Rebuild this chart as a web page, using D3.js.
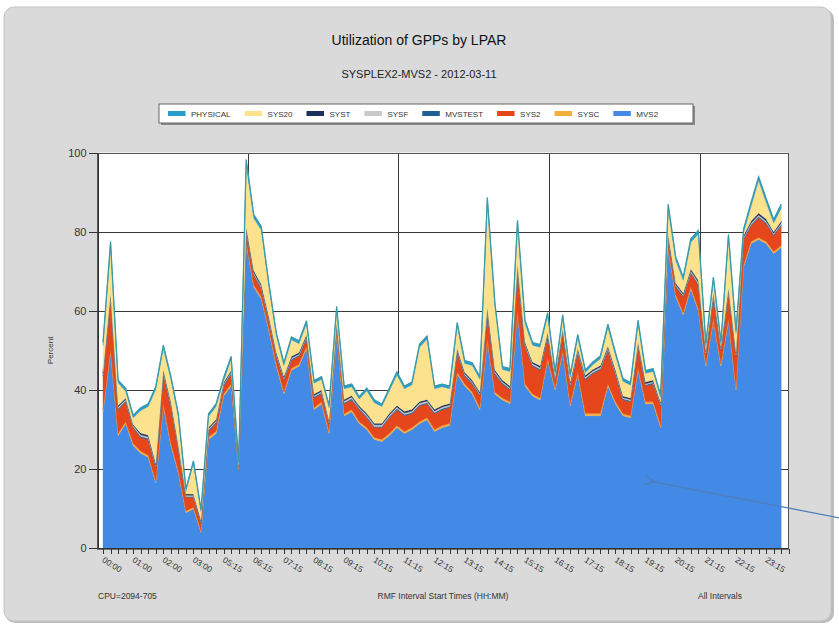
<!DOCTYPE html>
<html lang="en">
<head>
<meta charset="utf-8">
<title>Utilization of GPPs by LPAR</title>
<script src="https://cdn.jsdelivr.net/npm/d3@7"></script>
<style>
  body { margin: 0; background: #fff; }
  svg { display: block; font-family: "Liberation Sans", Arial, sans-serif; }
  .axis path, .axis line { stroke: #333; shape-rendering: crispEdges; }
  .axis text { fill: #333; }
  .grid line { stroke: #3a3a3a; stroke-width: 1; shape-rendering: crispEdges; }
</style>
</head>
<body>
<div id="chart"></div>
<script>
// interval start times (x categories)
var categories = [
  "00:00","00:15","00:30","00:45","01:00","01:15","01:30","01:45","02:00","02:15",
  "02:30","02:45","03:00","04:30","04:45","05:00","05:15","05:30","05:45","06:00",
  "06:15","06:30","06:45","07:00","07:15","07:30","07:45","08:00","08:15","08:30",
  "08:45","09:00","09:15","09:30","09:45","10:00","10:15","10:30","10:45","11:00",
  "11:15","11:30","11:45","12:00","12:15","12:30","12:45","13:00","13:15","13:30",
  "13:45","14:00","14:15","14:30","14:45","15:00","15:15","15:30","15:45","16:00",
  "16:15","16:30","16:45","17:00","17:15","17:30","17:45","18:00","18:15","18:30",
  "18:45","19:00","19:15","19:30","19:45","20:00","20:15","20:30","20:45","21:00",
  "21:15","21:30","21:45","22:00","22:15","22:30","22:45","23:00","23:15","23:30",
  "23:45"
];

// only every 4th interval gets a label
var tickLabels = ["00:00","01:00","02:00","03:00","05:15","06:15","07:15","08:15","09:15","10:15",
  "11:15","12:15","13:15","14:15","15:15","16:15","17:15","18:15","19:15","20:15",
  "21:15","22:15","23:15"];

var yTicks = [0, 20, 40, 60, 80, 100];

// percent of GPP capacity per LPAR
var MVS2 = [
  34.5,49.5,28.5,31.5,26,24,23,16.5,36,26,
  19,9,10,4,27.5,29,38.5,41,20,77,
  66,63,55,46,39,45,46,50.5,35,36.5,
  29,54,33.5,34.5,31.5,30,27.5,27,28.5,30.5,
  29,30,31.5,32.5,29.5,30.5,31,44,41,39,
  35,52.5,39,37.5,36.5,59.5,41,38.5,37.5,47.5,
  40,49.5,36,44,33.5,33.5,33.5,41,36.5,33.5,
  33,45,36.5,36.5,30.5,75.5,63.5,59,65.5,60,
  46,57.5,46,57.5,40,71,77,78,77,74.5,
  76];
var SYSC = [
  0.5,0.6,0.5,0.5,0.5,0.5,0.5,0.4,0.5,0.5,
  0.5,0.4,0.4,0.4,0.6,0.6,0.5,0.5,0.3,0.5,
  0.5,0.5,0.5,0.5,0.5,0.5,0.5,0.5,0.5,0.5,
  0.5,0.5,0.5,0.5,0.5,0.5,0.5,0.5,0.5,0.5,
  0.5,0.5,0.5,0.5,0.5,0.5,0.5,0.5,0.5,0.5,
  0.5,0.5,0.5,0.5,0.5,0.5,0.5,0.5,0.5,0.5,
  0.5,0.5,0.5,0.5,0.6,0.6,0.6,0.5,0.5,0.5,
  0.5,0.5,0.5,0.5,0.5,0.5,0.5,0.5,0.5,0.5,
  0.5,0.5,0.5,0.5,0.5,0.5,0.5,0.5,0.5,0.5,
  0.5];
var SYS2 = [
  8.5,13,6,5,4,3.5,4,3.5,7.5,9.5,
  5.5,3.5,2.5,2,1.5,2,2,2.5,0.2,2.5,
  2.5,2,2,2,3,2,2,2,2.5,2,
  2,1.5,2.5,2.5,3,2.5,2.5,3,4,4,
  4,3.5,4,3.5,4,4,4,5,2,2,
  3,6.5,4.5,3.5,3,10.5,9.5,7,7,5.5,
  2,4.5,4.5,5,8.5,10,11,8.5,7,3.5,
  3.5,5.5,4,4.5,5,2,2,4,3.5,6,
  2.5,5.5,3.5,6.5,8,6.5,4,5,4.5,4,
  5];
var MVSTEST = [
  0.3,0.3,0.3,0.3,0.2,0.3,0.3,0.3,0.3,0.3,
  0.3,0.2,0.2,0.2,0.3,0.3,0.3,0.3,0.1,0.3,
  0.3,0.3,0.3,0.3,0.3,0.3,0.3,0.3,0.3,0.3,
  0.2,0.3,0.3,0.3,0.3,0.3,0.3,0.3,0.3,0.3,
  0.3,0.3,0.3,0.3,0.3,0.3,0.3,0.3,0.3,0.3,
  0.3,0.4,0.3,0.3,0.3,0.3,0.3,0.3,0.3,0.3,
  0.2,0.3,0.3,0.3,0.3,0.3,0.3,0.3,0.3,0.3,
  0.3,0.3,0.3,0.3,0.3,0.3,0.3,0.3,0.3,0.3,
  0.3,0.3,0.3,0.3,0.3,0.3,0.3,0.3,0.3,0.3,
  0.3];
var SYSF = [
  0.4,0.4,0.4,0.3,0.3,0.4,0.4,0.3,0.4,0.4,
  0.3,0.3,0.3,0.2,0.3,0.3,0.3,0.3,0.2,0.4,
  0.4,0.4,0.4,0.3,0.3,0.3,0.3,0.3,0.3,0.3,
  0.3,0.3,0.4,0.4,0.3,0.4,0.4,0.4,0.4,0.4,
  0.4,0.4,0.4,0.4,0.4,0.4,0.4,0.3,0.3,0.3,
  0.3,0.4,0.4,0.3,0.3,0.4,0.4,0.4,0.4,0.3,
  0.3,0.3,0.4,0.3,0.4,0.4,0.4,0.4,0.4,0.3,
  0.3,0.4,0.3,0.3,0.3,0.4,0.3,0.3,0.4,0.4,
  0.3,0.3,0.3,0.4,0.4,0.3,0.4,0.4,0.4,0.3,
  0.4];
var SYST = [
  0.4,0.5,0.4,0.4,0.3,0.4,0.4,0.4,0.5,0.4,
  0.4,0.3,0.3,0.3,0.4,0.4,0.3,0.4,0.2,0.5,
  0.5,0.5,0.4,0.4,0.4,0.4,0.4,0.4,0.4,0.4,
  0.3,0.4,0.4,0.4,0.4,0.4,0.4,0.4,0.4,0.4,
  0.4,0.4,0.4,0.4,0.4,0.4,0.4,0.4,0.4,0.4,
  0.4,0.5,0.4,0.4,0.4,0.5,0.4,0.4,0.4,0.4,
  0.3,0.4,0.4,0.4,0.4,0.4,0.4,0.4,0.4,0.4,
  0.4,0.4,0.4,0.4,0.3,0.5,0.4,0.4,0.4,0.5,
  0.3,0.4,0.3,0.5,0.4,0.4,0.5,0.5,0.5,0.4,
  0.5];
var SYS20 = [
  6.7,12.2,5.7,1.7,1.7,5.7,7.2,18.7,5.2,5.7,
  7.2,0.7,7.7,2.2,2.7,3.2,0.4,2.7,0.3,15.9,
  13.2,13.7,7.7,4.2,2.7,4.2,2.2,2.7,2.7,2.7,
  3.2,3.2,2.7,2.2,1.7,5.7,5.2,4.2,5.7,7.7,
  5.7,6.2,13.7,15.2,5.2,4.7,3.7,5.7,2.2,3.7,
  3.2,26.7,16.2,2.7,3.7,10.2,4.7,4.2,4.7,4.2,
  0.7,2.7,1.2,2.7,0.7,1.2,1.7,4.7,3.7,3.7,
  3.2,4.7,2.2,2.2,1.2,6.7,5.7,3.2,6.7,11.7,
  1.2,3.2,0.7,12.7,4.7,0.7,3.7,8.2,4.2,2.2,
  3.2];
var PHYSICAL = [
  0.8,1.0,0.7,0.7,0.6,0.7,0.7,0.8,0.9,0.7,
  0.7,0.6,0.7,0.5,0.7,0.7,0.8,0.8,0.6,1.1,
  0.9,0.9,0.8,0.7,0.7,0.7,0.7,0.8,0.7,0.7,
  0.6,0.9,0.7,0.7,0.6,0.7,0.7,0.6,0.7,0.8,
  0.7,0.7,0.8,0.8,0.7,0.7,0.7,0.8,0.7,0.7,
  0.7,1.1,0.8,0.7,0.7,1.0,0.8,0.7,0.7,0.8,
  0.7,0.8,0.7,0.8,0.7,0.7,0.7,0.8,0.7,0.7,
  0.7,0.8,0.7,0.7,0.6,1.0,0.9,0.8,0.9,0.9,
  0.7,0.8,0.7,0.9,0.8,0.9,1.0,1.0,1.0,0.9,
  1.0];

var w = 839, h = 629;
var pLeft = 97, pRight = 788, pTop = 152.5, pBottom = 548.3;

// stacking order bottom -> top
var keys = ["MVS2","SYSC","SYS2","MVSTEST","SYSF","SYST","SYS20","PHYSICAL"];
var series = {MVS2: MVS2, SYSC: SYSC, SYS2: SYS2, MVSTEST: MVSTEST, SYSF: SYSF, SYST: SYST, SYS20: SYS20, PHYSICAL: PHYSICAL};
var colors = {
  PHYSICAL: "#2a9ccc", SYS20: "#fce28e", SYST: "#1d2f5a", SYSF: "#c9c9c9",
  MVSTEST: "#1f6197", SYS2: "#e5461b", SYSC: "#f4ae3c", MVS2: "#4389e6"
};
var legendOrder = ["PHYSICAL","SYS20","SYST","SYSF","MVSTEST","SYS2","SYSC","MVS2"];

var table = categories.map(function(c, i) {
  var row = {i: i, t: c};
  keys.forEach(function(k) { row[k] = series[k][i]; });
  return row;
});

var svg = d3.select("#chart").append("svg")
  .attr("width", w).attr("height", h);

// panel
svg.append("rect")
  .attr("x", 5).attr("y", 9).attr("width", w - 10).attr("height", 614)
  .attr("rx", 10).attr("fill", "#bdbdbd");
svg.append("rect")
  .attr("x", 4).attr("y", 7).attr("width", w - 12).attr("height", 614)
  .attr("rx", 10).attr("fill", "#dadada").attr("stroke", "#c4c4c4");

// titles
svg.append("text").attr("x", 419).attr("y", 45)
  .attr("text-anchor", "middle").attr("font-size", "14px").attr("fill", "#111")
  .text("Utilization of GPPs by LPAR");
svg.append("text").attr("x", 419).attr("y", 78)
  .attr("text-anchor", "middle").attr("font-size", "11px").attr("fill", "#222")
  .text("SYSPLEX2-MVS2 - 2012-03-11");

// legend
var lg = svg.append("g");
lg.append("rect").attr("x", 161).attr("y", 106).attr("width", 534).attr("height", 19).attr("fill", "#8a8a8a");
lg.append("rect").attr("x", 159).attr("y", 104).attr("width", 534).attr("height", 19)
  .attr("fill", "#fff").attr("stroke", "#666").attr("stroke-width", 1);
var lx = 168;
legendOrder.forEach(function(k) {
  lg.append("rect").attr("x", lx).attr("y", 111).attr("width", 17.5).attr("height", 5).attr("fill", colors[k]);
  var t = lg.append("text").attr("x", lx + 23).attr("y", 116.5)
    .attr("font-size", "8px").attr("fill", "#333").text(k);
  lx += 23 + t.node().getComputedTextLength() + 14;
});

// scales
var x = d3.scaleLinear().domain([-0.8, 90.9]).range([pLeft, pRight]);
var y = d3.scaleLinear().domain([0, 100]).range([pBottom, pTop]);

// plot background
svg.append("rect").attr("x", pLeft).attr("y", pTop)
  .attr("width", pRight - pLeft).attr("height", pBottom - pTop).attr("fill", "#fff");

// grid
var grid = svg.append("g").attr("class", "grid");
grid.selectAll(".hg").data([20, 40, 60, 80, 100]).enter().append("line")
  .attr("x1", pLeft).attr("x2", pRight)
  .attr("y1", function(d) { return Math.round(y(d)) + 0.5; })
  .attr("y2", function(d) { return Math.round(y(d)) + 0.5; });
grid.selectAll(".vg").data([19.2, 39.2, 59.2, 79.2]).enter().append("line")
  .attr("y1", pTop).attr("y2", pBottom)
  .attr("x1", function(d) { return Math.round(x(d)) + 0.5; })
  .attr("x2", function(d) { return Math.round(x(d)) + 0.5; });

// stacked areas
var stack = d3.stack().keys(keys);
var layers = stack(table);
var area = d3.area()
  .x(function(d) { return x(d.data.i); })
  .y0(function(d) { return y(d[0]); })
  .y1(function(d) { return y(d[1]); });

svg.selectAll(".layer").data(layers).enter().append("path")
  .attr("class", "layer")
  .attr("fill", function(d) { return colors[d.key]; })
  .attr("stroke", function(d) { return colors[d.key]; })
  .attr("stroke-width", 0.4)
  .attr("d", area);

// top outline of PHYSICAL
svg.append("path").datum(layers[layers.length - 1])
  .attr("fill", "none").attr("stroke", "#3a9aa6").attr("stroke-width", 1.2)
  .attr("d", d3.line().x(function(d) { return x(d.data.i); }).y(function(d) { return y(d[1]); }));

// plot frame
svg.append("rect").attr("x", pLeft + 0.5).attr("y", Math.round(pTop) + 0.5)
  .attr("width", pRight - pLeft).attr("height", pBottom - pTop)
  .attr("fill", "none").attr("stroke", "#555");

// y axis
var yAxis = svg.append("g").attr("class", "axis")
  .attr("transform", "translate(" + (pLeft + 0.5) + ",0)")
  .call(d3.axisLeft(y).tickValues(yTicks).tickSize(9).tickPadding(2));
yAxis.selectAll("text").attr("font-size", "11px").attr("font-family", "Liberation Sans, Arial, sans-serif");

svg.append("text")
  .attr("transform", "translate(53," + ((pTop + pBottom) / 2) + ") rotate(-90)")
  .attr("text-anchor", "middle").attr("font-size", "8px").attr("fill", "#333")
  .text("Percent");

// x axis
var tickIdx = d3.range(0, 92);
var xAxis = svg.append("g").attr("class", "axis")
  .attr("transform", "translate(0," + (Math.round(pBottom) + 0.5) + ")")
  .call(d3.axisBottom(x).tickValues(tickIdx).tickSize(5)
    .tickFormat(function(i) { return i % 4 === 0 ? tickLabels[i / 4] : ""; }));
xAxis.select(".domain").attr("d", "M" + (pLeft - 8) + ",0H" + pRight);
xAxis.selectAll("text")
  .attr("y", 0).attr("dy", 0)
  .attr("font-size", "8.5px")
  .attr("font-family", "Liberation Sans, Arial, sans-serif")
  .attr("fill", "#444")
  .attr("text-anchor", "start")
  .attr("transform", "translate(-2,13) rotate(32)");

// footer texts
svg.append("text").attr("x", 98).attr("y", 599).attr("font-size", "8.5px").attr("fill", "#333")
  .text("CPU=2094-705");
svg.append("text").attr("x", 443).attr("y", 599).attr("text-anchor", "middle")
  .attr("font-size", "8.5px").attr("fill", "#333")
  .text("RMF Interval Start Times (HH:MM)");
svg.append("text").attr("x", 698).attr("y", 599).attr("font-size", "8.5px").attr("fill", "#333")
  .text("All Intervals");

// annotation arrow pointing into the MVS2 area
svg.append("defs").append("marker")
  .attr("id", "arr").attr("viewBox", "0 0 10 10").attr("refX", 1).attr("refY", 5)
  .attr("markerWidth", 9).attr("markerHeight", 9).attr("orient", "auto")
  .append("path").attr("d", "M9,1 L1,5 L9,9").attr("fill", "none")
  .attr("stroke", "#4f7fb8").attr("stroke-width", 1.3);
svg.append("line")
  .attr("x1", w + 2).attr("y1", y(7.6))
  .attr("x2", x(73.1)).attr("y2", y(16.8))
  .attr("stroke", "#4f7fb8").attr("stroke-width", 1.3)
  .attr("marker-end", "url(#arr)");
</script>
</body>
</html>
